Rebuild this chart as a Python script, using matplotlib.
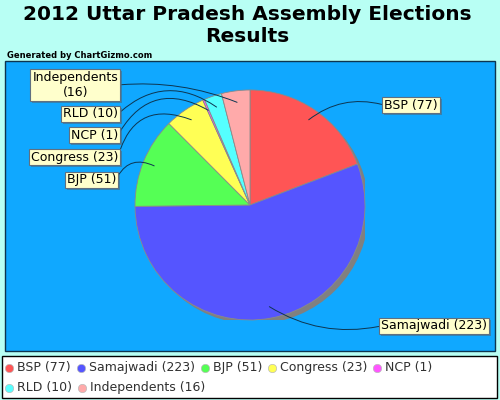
import matplotlib
matplotlib.use("Agg")
import matplotlib.pyplot as plt
import matplotlib.patheffects as pe
import numpy as np
from matplotlib.patches import Rectangle, Circle

parties = ["BSP", "Samajwadi", "BJP", "Congress", "NCP", "RLD", "Independents"]
seats = [77, 223, 51, 23, 1, 10, 16]
colors = ["#FF5555", "#5555FF", "#55FF55", "#FFFF55", "#FF55FF", "#55FFFF", "#FFAAAA"]
# where each callout box sits (figure pixels from top-left), side of the pie
label_pos = [(384, 105, "left"), (381, 326, "left"), (116, 180, "right"),
             (118, 157, "right"), (118, 135, "right"), (118, 114, "right"),
             (118, 85, "right")]
label_text = ["BSP (77)", "Samajwadi (223)", "BJP (51)", "Congress (23)",
              "NCP (1)", "RLD (10)", "Independents\n(16)"]
rads = [0.25, -0.2, -0.5, -0.55, -0.5, -0.4, -0.12]

W, H = 500, 400
fig = plt.figure(figsize=(5, 4), dpi=100)
fig.patch.set_facecolor("#B8FFF4")

bg = fig.add_axes([0, 0, 1, 1])
bg.set_xlim(0, W)
bg.set_ylim(H, 0)
bg.axis("off")
bg.add_patch(Rectangle((5, 61), 490, 290, facecolor="#10A8FF", edgecolor="#0D3550", lw=1))
bg.add_patch(Rectangle((2, 356), 495, 42, facecolor="white", edgecolor="black", lw=1))
bg.text(247, 25, "2012 Uttar Pradesh Assembly Elections\nResults", ha="center", va="center",
        fontsize=14.5, fontweight="bold", linespacing=1.2)
bg.text(7, 55, "Generated by ChartGizmo.com", fontsize=6, fontweight="bold", va="center")

cx, cy, r = 250, 205, 115
ax = fig.add_axes([(cx - r) / W, (H - cy - r) / H, 2 * r / W, 2 * r / H])
# shadow
ax.add_patch(Circle((0.035, -0.035), 1, facecolor="#808080", edgecolor="none", zorder=0))
wedges, _ = ax.pie(seats, colors=colors, startangle=90, counterclock=False,
                   wedgeprops=dict(edgecolor="#8A8A8A", linewidth=0.6))
for w in wedges:
    w.set_zorder(1)
ax.set_xlim(-1, 1)
ax.set_ylim(-1, 1)
ax.axis("off")

total = sum(seats)
start = 90.0
for i, v in enumerate(seats):
    ang = np.deg2rad(start - 360 * v / total / 2)
    start -= 360 * v / total
    px, py = 0.9 * np.cos(ang), 0.9 * np.sin(ang)
    lx, ly, side = label_pos[i]
    relx = 0.0 if side == "left" else 1.0
    an = ax.annotate(label_text[i], xy=(px, py), xytext=(lx, H - ly), textcoords="figure pixels",
                     ha=side, va="center", fontsize=9, multialignment="center",
                     bbox=dict(boxstyle="square,pad=0.15", fc="#FFFFCC", ec="#607080", lw=0.8),
                     arrowprops=dict(arrowstyle="-", color="#0D3550", lw=0.7, shrinkA=0, shrinkB=0,
                                     relpos=(relx, 0.5),
                                     connectionstyle="arc3,rad=%s" % rads[i]),
                     annotation_clip=False, zorder=5)
    an.get_bbox_patch().set_path_effects([pe.SimplePatchShadow(offset=(1.5, -1.5), shadow_rgbFace="#4A6A80", alpha=0.6),
                                          pe.Normal()])

# legend laid out row by row
fig.canvas.draw()
renderer = fig.canvas.get_renderer()
x, y = 9, 368
for name, v, c in zip(parties, seats, colors):
    txt = "%s (%d)" % (name, v)
    t = bg.text(0, 0, txt, fontsize=9, va="center", color="#303030")
    wpx = t.get_window_extent(renderer).width
    if x + 8 + wpx > 492:
        x, y = 9, 388
    bg.plot(x, y, "o", ms=6, color=c, mec="#BBBBBB", mew=0.5)
    t.set_position((x + 8, y))
    x += 8 + wpx + 10

fig.savefig("out.png", dpi=100, facecolor=fig.get_facecolor())
